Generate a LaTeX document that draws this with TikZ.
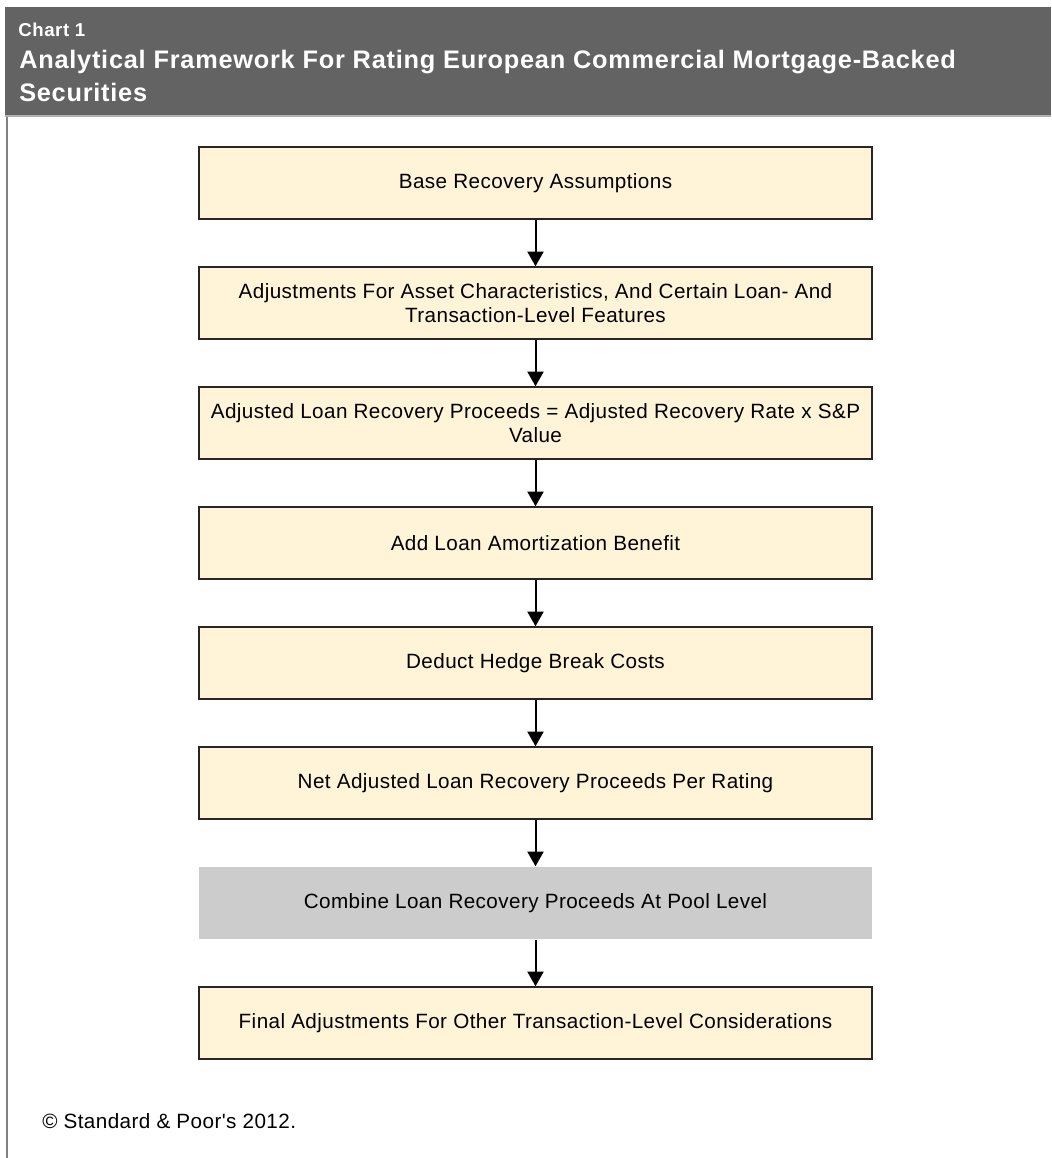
\documentclass[tikz,border=0pt]{standalone}
\usepackage{fontspec}
\setmainfont{Liberation Sans}
\newfontfamily\spacedfont[LetterSpace=2]{Liberation Sans}
\newfontfamily\headfont[LetterSpace=3]{Liberation Sans}
\usetikzlibrary{positioning, arrows.meta}
\definecolor{headgray}{RGB}{99,99,99}
\definecolor{rulegray}{RGB}{176,176,176}
\definecolor{edgegray}{RGB}{128,128,128}
\definecolor{stagefill}{RGB}{255,244,216}
\definecolor{poolfill}{RGB}{204,204,204}
\tikzstyle{line} = [draw, line width=1.5pt, -{Triangle[width=12pt,length=11pt]}]
\tikzstyle{stage} = [rectangle, draw=black!85, line width=1.1pt, fill=stagefill, minimum width=504.75pt, minimum height=54pt, align=center, inner sep=0pt, node distance=90pt, font=\spacedfont\fontsize{15.5}{18}\selectfont]
\tikzstyle{pool_stage} = [stage, draw=none, fill=poolfill]
\tikzstyle{head_text} = [anchor=base west, align=left, inner sep=0pt, text=white]

\begin{document}
\begin{tikzpicture}[x=0.75pt, y=-0.75pt]
\useasboundingbox (0,0) rectangle (1051,1158);
% header band and left rule
\fill [headgray] (5,7) rectangle (1051,115);
\draw [rulegray, line width=1.5pt] (5,116) -- (1051,116);
\draw [edgegray, line width=1.5pt] (7,117) -- (7,1158);
\node [head_text, font=\headfont\bfseries\fontsize{14}{16}\selectfont] (chartno) at (18,36) {Chart 1};
\node [head_text, font=\headfont\bfseries\fontsize{19}{24.75}\selectfont] (title) at (19,101) {Analytical Framework For Rating European Commercial Mortgage-Backed\\Securities};

% flow
\node [stage] (base) at (535.5,183) {Base Recovery Assumptions};
\node [stage, below of = base] (adjust) {Adjustments For Asset Characteristics, And Certain Loan- And\\Transaction-Level Features};
\node [stage, below of = adjust] (proceeds) {Adjusted Loan Recovery Proceeds = Adjusted Recovery Rate x S\&P\\Value};
\node [stage, below of = proceeds] (amort) {Add Loan Amortization Benefit};
\node [stage, below of = amort] (hedge) {Deduct Hedge Break Costs};
\node [stage, below of = hedge] (netrec) {Net Adjusted Loan Recovery Proceeds Per Rating};
\node [pool_stage, below of = netrec] (pool) {Combine Loan Recovery Proceeds At Pool Level};
\node [stage, below of = pool] (final) {Final Adjustments For Other Transaction-Level Considerations};

\path [line] (base.south) to (adjust.north);
\path [line] (adjust.south) to (proceeds.north);
\path [line] (proceeds.south) to (amort.north);
\path [line] (amort.south) to (hedge.north);
\path [line] (hedge.south) to (netrec.north);
\path [line] (netrec.south) to (pool.north);
\path [line] (pool.south) to (final.north);

\node [anchor=base west, inner sep=0pt, font=\spacedfont\fontsize{15.5}{18}\selectfont] (source) at (42,1128) {© Standard \& Poor's 2012.};
\end{tikzpicture}
\end{document}
